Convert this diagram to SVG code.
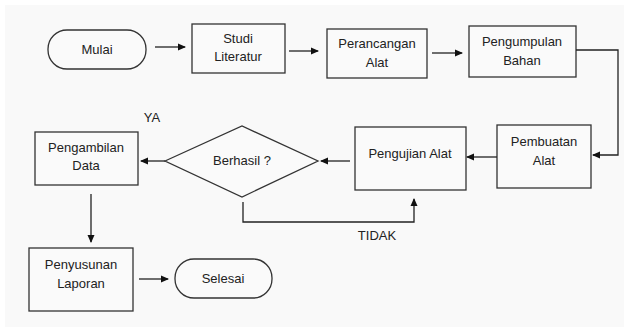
<svg xmlns="http://www.w3.org/2000/svg" width="624" height="329" viewBox="0 0 624 329">
<style>
.box{fill:#fafafa;stroke:#333;stroke-width:1.3}
.t{font-family:"Liberation Sans",Arial,sans-serif;font-size:13px;fill:#222;text-anchor:middle}
.c{fill:none;stroke:#222;stroke-width:1.3}
</style>
<defs>
<marker id="ah" markerWidth="8" markerHeight="8" refX="7" refY="4" orient="auto" markerUnits="userSpaceOnUse">
<path d="M0,0.5 L8,4 L0,7.5 Z" fill="#111"/>
</marker>
</defs>
<rect x="0" y="0" width="624" height="329" fill="#fff"/>
<rect x="5" y="5" width="619" height="322" fill="#f9f9f9"/>
<g id="mulai"><rect class="box" x="48" y="30" width="98" height="39" rx="19" ry="19"/><text class="t" x="97" y="54">Mulai</text></g>
<g id="studi"><rect class="box" x="192" y="24" width="93" height="49"/><text class="t" x="238" y="43">Studi</text><text class="t" x="238" y="61">Literatur</text></g>
<g id="perancangan"><rect class="box" x="327" y="29" width="100" height="49"/><text class="t" x="377" y="48">Perancangan</text><text class="t" x="377" y="67">Alat</text></g>
<g id="pengumpulan"><rect class="box" x="469" y="26" width="107" height="51"/><text class="t" x="522" y="46">Pengumpulan</text><text class="t" x="522" y="65">Bahan</text></g>
<g id="pembuatan"><rect class="box" x="497" y="125" width="94" height="63"/><text class="t" x="544" y="146">Pembuatan</text><text class="t" x="544" y="165">Alat</text></g>
<g id="pengujian"><rect class="box" x="355" y="127" width="111" height="63"/><text class="t" x="410" y="158">Pengujian Alat</text></g>
<g id="berhasil"><polygon class="box" points="165,161 242,126 318,161 242,197"/><text class="t" x="242" y="165">Berhasil ?</text></g>
<g id="pengambilan"><rect class="box" x="35" y="132" width="103" height="53"/><text class="t" x="86" y="152">Pengambilan</text><text class="t" x="86" y="170">Data</text></g>
<g id="penyusunan"><rect class="box" x="29" y="248" width="104" height="63"/><text class="t" x="81" y="269">Penyusunan</text><text class="t" x="81" y="288">Laporan</text></g>
<g id="selesai"><rect class="box" x="175" y="259" width="97" height="39" rx="19" ry="19"/><text class="t" x="223" y="283">Selesai</text></g>
<g id="labels"><text class="t" x="152" y="122">YA</text><text class="t" x="377" y="240">TIDAK</text></g>
<g id="connectors">
<line class="c" x1="155" y1="47" x2="185" y2="47" marker-end="url(#ah)"/>
<line class="c" x1="289" y1="51" x2="318" y2="51" marker-end="url(#ah)"/>
<line class="c" x1="432" y1="53" x2="462" y2="53" marker-end="url(#ah)"/>
<polyline class="c" points="576,50 618,50 618,155 593,155" marker-end="url(#ah)"/>
<line class="c" x1="497" y1="157" x2="467" y2="157" marker-end="url(#ah)"/>
<line class="c" x1="350" y1="161" x2="321" y2="161" marker-end="url(#ah)"/>
<line class="c" x1="165" y1="161" x2="141" y2="161" marker-end="url(#ah)"/>
<polyline class="c" points="243,202 243,222 414,222 414,199" marker-end="url(#ah)"/>
<line class="c" x1="91" y1="194" x2="91" y2="242" marker-end="url(#ah)"/>
<line class="c" x1="139" y1="279" x2="168" y2="279" marker-end="url(#ah)"/>
</g>
</svg>
